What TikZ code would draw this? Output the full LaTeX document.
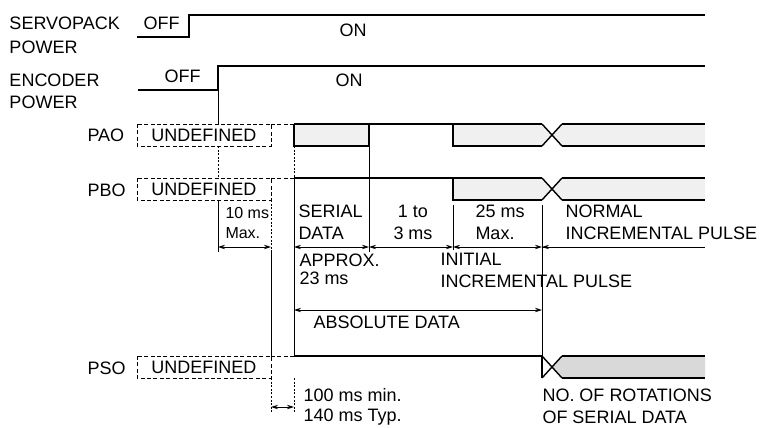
\documentclass[tikz,border=0pt]{standalone}
\usepackage{fontspec}
\setmainfont{Liberation Sans}
\usetikzlibrary{arrows.meta}
\tikzset{
  timing/.style={x=0.5pt, y=-0.5pt, line width=0.5pt},
  sig/.style={line width=0.7pt},
  undef/.style={line width=0.5pt, dash pattern=on 2pt off 1.2pt},
  stipple/.style={fill=black!6},
  dstipple/.style={fill=black!15},
  guide/.style={line width=0.5pt},
  dguide/.style={line width=0.5pt, dash pattern=on 1pt off 0.8pt},
  dimline/.style={line width=0.4pt,
    {Stealth[length=3.5pt,width=2.2pt]}-{Stealth[length=3.5pt,width=2.2pt]}},
  tlabel/.style={font=\fontsize{9}{11}\selectfont, inner sep=0pt,
    anchor=west, align=left},
  slabel/.style={font=\fontsize{8}{10}\selectfont, inner sep=0pt,
    anchor=west, align=left},
}
% crossing of a data bus at x=#1, top edge y=#2
\newcommand{\xswap}[2]{\draw[sig] ({#1-10},#2) -- ({#1+10},{#2+22})
  ({#1-10},{#2+22}) -- ({#1+10},#2);}
\begin{document}
\begin{tikzpicture}[timing]
  \useasboundingbox (0,0) rectangle (761,428);
  % power supplies
  \draw[sig] (137,37) -- (189,37) -- (189,15) -- (705,15);
  \draw[sig] (138,90) -- (218,90) -- (218,66) -- (705,66);
  \node[tlabel] (spkpow) at (9,35) {SERVOPACK\\[1pt]POWER};
  \node[tlabel] (encpow) at (9,91) {ENCODER\\POWER};
  \node[tlabel] (spkoff) at (143,23) {OFF};
  \node[tlabel] (spkon) at (339,30) {ON};
  \node[tlabel] (encoff) at (164,76) {OFF};
  \node[tlabel] (encon) at (335,80) {ON};
  % PAO
  \fill[stipple] (294,124) rectangle (369,146);
  \fill[stipple] (453,124) -- (542,124) -- (552,135) -- (542,146)
    -- (453,146) -- cycle;
  \fill[stipple] (705,124) -- (562,124) -- (552,135) -- (562,146)
    -- (705,146) -- cycle;
  \draw[undef] (137,124) rectangle (271,146);
  \draw[undef] (271,124) -- (294,124);
  \draw[sig] (294,124) -- (542,124) (562,124) -- (705,124);
  \draw[sig] (294,124) -- (294,146) -- (369,146) -- (369,124);
  \draw[sig] (453,124) -- (453,146) -- (542,146) (562,146) -- (705,146);
  \xswap{552}{124}
  \node[tlabel] (pao) at (87,135) {PAO};
  \node[tlabel, anchor=center] (paoundef) at (204,135) {UNDEFINED};
  % PBO
  \fill[stipple] (453,178) -- (542,178) -- (552,189) -- (542,200)
    -- (453,200) -- cycle;
  \fill[stipple] (705,178) -- (562,178) -- (552,189) -- (562,200)
    -- (705,200) -- cycle;
  \draw[undef] (137,178) rectangle (271,200);
  \draw[undef] (271,178) -- (294,178);
  \draw[sig] (294,178) -- (542,178) (562,178) -- (705,178);
  \draw[sig] (453,178) -- (453,200) -- (542,200) (562,200) -- (705,200);
  \xswap{552}{178}
  \node[tlabel] (pbo) at (87,190) {PBO};
  \node[tlabel, anchor=center] (pboundef) at (204,189) {UNDEFINED};
  % PSO
  \fill[dstipple] (705,356) -- (562,356) -- (552,367) -- (562,378)
    -- (705,378) -- cycle;
  \draw[undef] (137,356) rectangle (271,378);
  \draw[undef] (271,356) -- (294,356);
  \draw[sig] (294,356) -- (542,356) (562,356) -- (705,356)
    (562,378) -- (705,378);
  \draw[sig] (542,356) -- (542,378);
  \xswap{552}{356}
  \node[tlabel] (pso) at (87,368) {PSO};
  \node[tlabel, anchor=center] (psoundef) at (204,367) {UNDEFINED};
  % timing guides
  \draw[guide] (218,90) -- (218,124) (218,200) -- (218,252);
  \draw[dguide] (218,146) -- (218,178);
  \draw[dguide] (271,200) -- (271,250) (271,378) -- (271,413);
  \draw[guide] (271,250) -- (271,356);
  \draw[dguide] (294,146) -- (294,178) (294,378) -- (294,413);
  \draw[guide] (294,178) -- (294,356);
  \draw[guide] (369,146) -- (369,252);
  \draw[guide] (453,205) -- (453,250);
  \draw[guide] (542,205) -- (542,356);
  % dimensions
  \draw[dimline] (218,247) -- (271,247);
  \draw[dimline] (294,247) -- (369,247);
  \draw[dimline] (369,247) -- (453,247);
  \draw[dimline] (453,247) -- (542,247);
  \draw[dimline, -] (542,247) -- (705,247);
  \draw[line width=0.4pt, {Stealth[length=3.5pt,width=2.2pt]}-]
    (542,247) -- (600,247);
  \draw[dimline] (294,310) -- (542,310);
  \draw[dimline] (271,407) -- (294,407);
  % labels
  \node[slabel] (tenms) at (225,223) {10 ms\\Max.};
  \node[tlabel] (serial) at (298,222) {SERIAL\\DATA};
  \node[tlabel, align=center, anchor=center] (onetothree) at (413,222)
    {1 to\\3 ms};
  \node[tlabel] (twentyfive) at (475,222) {25 ms\\Max.};
  \node[tlabel] (normal) at (565,222) {NORMAL\\INCREMENTAL PULSE};
  \node[tlabel] (approx) at (299,269) {APPROX.\\[-2pt]23 ms};
  \node[tlabel] (initial) at (440,270) {INITIAL\\INCREMENTAL PULSE};
  \node[tlabel] (absolute) at (313,322) {ABSOLUTE DATA};
  \node[tlabel] (hundred) at (303,407) {100 ms min.\\[-1pt]140 ms Typ.};
  \node[tlabel] (rotations) at (542,406) {NO. OF ROTATIONS\\OF SERIAL DATA};
\end{tikzpicture}
\end{document}
